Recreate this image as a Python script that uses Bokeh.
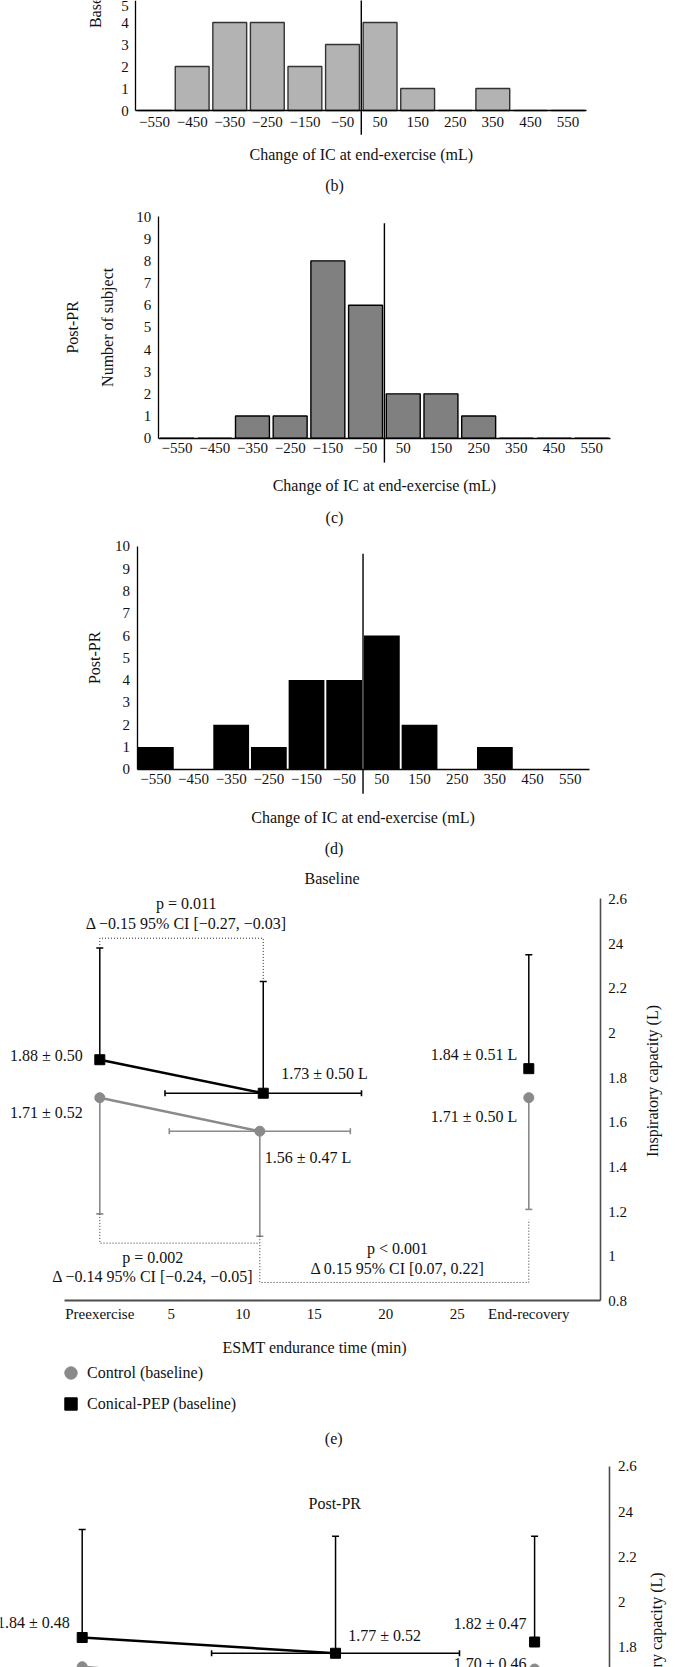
import math

from bokeh.core.properties import value
from bokeh.embed import file_html
from bokeh.layouts import column
from bokeh.models import (ColumnDataSource, FixedTicker, Legend, LegendItem,
                          LinearAxis, Range1d, TeeHead, Whisker)
from bokeh.plotting import figure
from bokeh.resources import INLINE

# ---------------------------------------------------------------- data
# Histogram bins: change of IC at end-exercise (mL), bin centres
bins = [-550, -450, -350, -250, -150, -50, 50, 150, 250, 350, 450, 550]
bin_labels = ["−550", "−450", "−350", "−250", "−150", "−50",
              "50", "150", "250", "350", "450", "550"]
count_ticks = [0, 1, 2, 3, 4, 5, 6, 7, 8, 9, 10]

# Number of subjects per bin
counts_b = [0, 2, 4, 4, 2, 3, 4, 1, 0, 1, 0, 0]
counts_c = [0, 0, 1, 1, 8, 6, 2, 2, 1, 0, 0, 0]
counts_d = [1, 0, 2, 1, 4, 4, 6, 2, 0, 1, 0, 0]

# ESMT time axis
time_ticks = [0, 5, 10, 15, 20, 25, 30]
time_tick_labels = ["Preexercise", "5", "10", "15", "20", "25", "End-recovery"]

# Inspiratory capacity axis
ic_ticks = [0.8, 1.0, 1.2, 1.4, 1.6, 1.8, 2.0, 2.2, 2.4, 2.6]
ic_tick_labels = ["0.8", "1", "1.2", "1.4", "1.6", "1.8", "2", "2.2", "24", "2.6"]

# Baseline session: IC (L) mean and SD at preexercise, end-exercise, end-recovery
base_time_con = [0, 11.43, 30]
base_ic_con = [1.88, 1.73, 1.84]
base_sd_con = [0.50, 0.50, 0.51]
base_time_ctl = [0, 11.19, 30]
base_ic_ctl = [1.71, 1.56, 1.71]
base_sd_ctl = [0.52, 0.47, 0.50]
base_endur_sd_con = 6.87   # SD of endurance time (min)
base_endur_sd_ctl = 6.33

# Post-PR session
post_time_con = [0, 16.8, 30]
post_ic_con = [1.84, 1.77, 1.82]
post_sd_con = [0.48, 0.52, 0.47]
post_time_ctl = [0, 16.3, 30]
post_ic_ctl = [1.71, 1.62, 1.70]
post_sd_ctl = [0.49, 0.48, 0.46]
post_endur_sd_con = 8.22

# ---------------------------------------------------------------- style
SERIF = "Liberation Serif"
GREY = "#8a8a8a"
AXIS_GREY = "#4d4d4d"
TXT = "#111111"
FS = "16px"
TICK_FS = "15px"


def make_fig(h, xr, yr):
    p = figure(width=675, height=h, x_range=Range1d(*xr), y_range=Range1d(*yr),
               x_axis_type=None, y_axis_type=None, toolbar_location=None,
               output_backend="svg", title=None, min_border=0)
    p.min_border_left = p.min_border_right = 0
    p.min_border_top = p.min_border_bottom = 0
    p.outline_line_color = None
    p.background_fill_color = "white"
    p.border_fill_color = "white"
    return p


def add_text(p, xs, ys, texts, size=FS, align="center", angle=0.0,
             color=TXT, x_offset=0, y_offset=0):
    p.text(x=xs, y=ys, text=texts, text_font=value(SERIF),
           text_font_size=size, text_align=align, text_baseline="middle",
           angle=angle, text_color=color, x_offset=x_offset, y_offset=y_offset)


def style_axis(ax, color, width, standoff):
    ax.major_tick_out = 0
    ax.major_tick_in = 0
    ax.minor_tick_out = 0
    ax.minor_tick_in = 0
    ax.axis_line_color = color
    ax.axis_line_width = width
    ax.major_label_text_font = SERIF
    ax.major_label_text_font_size = TICK_FS
    ax.major_label_text_color = TXT
    ax.major_label_standoff = standoff


def histogram(h, xr, yr, counts, fill, line, bar_w, zero_top, x_label_y,
              caption, caption_x, caption_y, ylabels, x_standoff):
    p = make_fig(h, xr, yr)
    p.vbar(x=bins, top=counts, width=bar_w, bottom=0, fill_color=fill,
           line_color=line, line_width=1.4 if line else 0)

    xa = LinearAxis(fixed_location=0, bounds=(-600, 600),
                    ticker=FixedTicker(ticks=bins),
                    major_label_overrides=dict(zip(bins, bin_labels)))
    ya = LinearAxis(fixed_location=-600, bounds=(0, 10),
                    ticker=FixedTicker(ticks=count_ticks))
    style_axis(xa, "black", 1.3, x_standoff)
    style_axis(ya, "black", 1.3, 7)
    p.add_layout(xa, "below")
    p.add_layout(ya, "left")

    # reference line at zero change
    p.segment(x0=[0], y0=[-1.1], x1=[0], y1=[zero_top], line_color="black",
              line_width=1.4)

    add_text(p, [0], [x_label_y], ["Change of IC at end-exercise (mL)"])
    add_text(p, [caption_x], [caption_y], [caption])
    for lx, lt in ylabels:
        add_text(p, [lx], [5], [lt], angle=math.pi / 2)
    return p


pb = histogram(200, (-960.0, 836.1), (-4.0909, 5.0), counts_b, "#b3b3b3",
               "#333333", 90, 5.5, -2.0, "(b)", -71.3, -3.41,
               [(-707.2, "Baseline")], 6)
pc = histogram(330, (-1018.3, 772.1), (-4.163, 10.722), counts_c, "#808080",
               "black", 90, 9.7, -2.13, "(c)", -132.4, -3.58,
               [(-828.1, "Post-PR"), (-735.3, "Number of subject")], 5)
pd = histogram(336, (-962.4, 829.5), (-4.369, 10.718), counts_d, "black",
               None, 95, 9.67, -2.155, "(d)", -76.8, -3.56,
               [(-713.4, "Post-PR")], 5)


def ic_axes(p, x_loc, x_bounds=None):
    ya = LinearAxis(fixed_location=x_loc, bounds=(0.8, 2.6),
                    ticker=FixedTicker(ticks=ic_ticks),
                    major_label_overrides=dict(zip(ic_ticks, ic_tick_labels)))
    style_axis(ya, AXIS_GREY, 1.6, 8)
    p.add_layout(ya, "right")
    if x_bounds is not None:
        xa = LinearAxis(fixed_location=0.8, bounds=x_bounds,
                        ticker=FixedTicker(ticks=time_ticks),
                        major_label_overrides=dict(zip(time_ticks, time_tick_labels)))
        style_axis(xa, AXIS_GREY, 1.8, 5)
        p.add_layout(xa, "below")


def session(p, t_con, ic_con, sd_con, t_ctl, ic_ctl, sd_ctl, hsd_con, hsd_ctl):
    con = ColumnDataSource(dict(t=t_con, ic=ic_con,
                                hi=[v + s for v, s in zip(ic_con, sd_con)]))
    ctl = ColumnDataSource(dict(t=t_ctl, ic=ic_ctl,
                                lo=[v - s for v, s in zip(ic_ctl, sd_ctl)]))
    p.add_layout(Whisker(source=ctl, base="t", lower="lo", upper="ic",
                         dimension="height", line_color=GREY, line_width=1.6,
                         lower_head=TeeHead(size=7, line_color=GREY, line_width=1.6),
                         upper_head=None))
    p.add_layout(Whisker(source=con, base="t", lower="ic", upper="hi",
                         dimension="height", line_color="black", line_width=1.5,
                         upper_head=TeeHead(size=7, line_color="black", line_width=1.5),
                         lower_head=None))
    # endurance-time spread at end-exercise
    if hsd_ctl is not None:
        hctl = ColumnDataSource(dict(ic=[ic_ctl[1]], l=[t_ctl[1] - hsd_ctl],
                                     r=[t_ctl[1] + hsd_ctl]))
        p.add_layout(Whisker(source=hctl, base="ic", lower="l", upper="r",
                             dimension="width", line_color=GREY, line_width=1.6,
                             lower_head=TeeHead(size=6, line_color=GREY, line_width=1.6),
                             upper_head=TeeHead(size=6, line_color=GREY, line_width=1.6)))
    hcon = ColumnDataSource(dict(ic=[ic_con[1]], l=[t_con[1] - hsd_con],
                                 r=[t_con[1] + hsd_con]))
    p.add_layout(Whisker(source=hcon, base="ic", lower="l", upper="r",
                         dimension="width", line_color="black", line_width=1.6,
                         lower_head=TeeHead(size=6, line_color="black", line_width=1.6),
                         upper_head=TeeHead(size=6, line_color="black", line_width=1.6)))
    p.line(x=t_ctl[:2], y=ic_ctl[:2], line_color=GREY, line_width=2.4)
    p.line(x=t_con[:2], y=ic_con[:2], line_color="black", line_width=2.4)
    r_ctl = p.scatter(x=t_ctl, y=ic_ctl, marker="circle", size=10,
                      fill_color=GREY, line_color=GREY)
    r_con = p.scatter(x=t_con, y=ic_con, marker="square", size=10,
                      fill_color="black", line_color="black")
    return r_ctl, r_con


def ic_label(v, s, unit=""):
    return f"{v:.2f} ± {s:.2f}{unit}"


# ---------------------------------------------------------------- (e) baseline
pe = make_fig(584, (-6.944, 40.259), (0.1308, 2.7449))
ic_axes(pe, 35.0, (-2.45, 35.0))
r_ctl, r_con = session(pe, base_time_con, base_ic_con, base_sd_con,
                       base_time_ctl, base_ic_ctl, base_sd_ctl,
                       base_endur_sd_con, base_endur_sd_ctl)

# value labels beside each mean
add_text(pe, [base_time_con[0], base_time_con[2]], [base_ic_con[0], base_ic_con[2]],
         [ic_label(base_ic_con[0], base_sd_con[0]),
          ic_label(base_ic_con[2], base_sd_con[2], " L")],
         align="right", x_offset=[-17, -11.6], y_offset=[-4, -14])
add_text(pe, [base_time_con[1]], [base_ic_con[1]],
         [ic_label(base_ic_con[1], base_sd_con[1], " L")],
         align="left", x_offset=18, y_offset=-19.5)
add_text(pe, [base_time_ctl[0], base_time_ctl[2]], [base_ic_ctl[0], base_ic_ctl[2]],
         [ic_label(base_ic_ctl[0], base_sd_ctl[0]),
          ic_label(base_ic_ctl[2], base_sd_ctl[2], " L")],
         align="right", x_offset=[-17, -11.6], y_offset=[14.5, 19])
add_text(pe, [base_time_ctl[1]], [base_ic_ctl[1]],
         [ic_label(base_ic_ctl[1], base_sd_ctl[1], " L")],
         align="left", x_offset=5, y_offset=26)

# significance brackets
top_level = 2.424
pe.line(x=[base_time_con[0], base_time_con[0], base_time_con[1], base_time_con[1]],
        y=[base_ic_con[0] + base_sd_con[0], top_level, top_level,
           base_ic_con[1] + base_sd_con[1]],
        line_color="#222222", line_width=1, line_dash="1 2")
low1, low2 = 1.059, 0.883
pe.line(x=[base_time_ctl[0], base_time_ctl[0], base_time_ctl[1]],
        y=[base_ic_ctl[0] - base_sd_ctl[0], low1, low1],
        line_color="#333333", line_width=1, line_dash="1 2")
pe.line(x=[base_time_ctl[1], base_time_ctl[1], base_time_ctl[2], base_time_ctl[2]],
        y=[base_ic_ctl[1] - base_sd_ctl[1], low2, low2,
           base_ic_ctl[2] - base_sd_ctl[2] - 0.045],
        line_color="#333333", line_width=1, line_dash="1 2")

add_text(pe, [6.05, 6.05], [2.578, 2.488],
         ["p = 0.011", "Δ −0.15 95% CI [−0.27, −0.03]"])
add_text(pe, [3.71, 3.71], [0.996, 0.910],
         ["p = 0.002", "Δ −0.14 95% CI [−0.24, −0.05]"])
add_text(pe, [20.82, 20.82], [1.034, 0.944],
         ["p < 0.001", "Δ 0.15 95% CI [0.07, 0.22]"])

add_text(pe, [16.24], [2.690], ["Baseline"])
add_text(pe, [15.03], [0.593], ["ESMT endurance time (min)"])
add_text(pe, [38.63], [1.785], ["Inspiratory capacity (L)"], angle=math.pi / 2)
add_text(pe, [16.36], [0.1845], ["(e)"])

legend = Legend(items=[LegendItem(label="Control (baseline)", renderers=[r_ctl]),
                       LegendItem(label="Conical-PEP (baseline)", renderers=[r_con])],
                location=(55, 31), orientation="vertical",
                glyph_width=31, glyph_height=31, label_height=31, spacing=-8,
                padding=0, margin=0, label_standoff=1,
                label_text_font=SERIF, label_text_font_size=FS,
                label_text_color=TXT, border_line_color=None,
                background_fill_alpha=0)
pe.add_layout(legend)

# ---------------------------------------------------------------- (f) post-PR
pf = make_fig(217, (-5.418, 39.344), (1.7067, 2.6711))
ic_axes(pf, 35.0)
session(pf, post_time_con, post_ic_con, post_sd_con,
        post_time_ctl, post_ic_ctl, post_sd_ctl, post_endur_sd_con, None)

add_text(pf, [post_time_con[0], post_time_con[2]], [post_ic_con[0], post_ic_con[2]],
         [ic_label(post_ic_con[0], post_sd_con[0]),
          ic_label(post_ic_con[2], post_sd_con[2])],
         align="right", x_offset=[-12.4, -8], y_offset=[-15.3, -18.8])
add_text(pf, [post_time_con[1]], [post_ic_con[1]],
         [ic_label(post_ic_con[1], post_sd_con[1])],
         align="left", x_offset=12.7, y_offset=-17.7)
add_text(pf, [post_time_ctl[2]], [post_ic_ctl[2]],
         [ic_label(post_ic_ctl[2], post_sd_ctl[2])],
         align="right", x_offset=-8, y_offset=-5.2)

add_text(pf, [16.75], [2.434], ["Post-PR"])
add_text(pf, [38.08], [1.792], ["Inspiratory capacity (L)"], angle=math.pi / 2)

layout = column(pb, pc, pd, pe, pf, spacing=0)
open("out.html", "w").write(file_html(layout, INLINE))
